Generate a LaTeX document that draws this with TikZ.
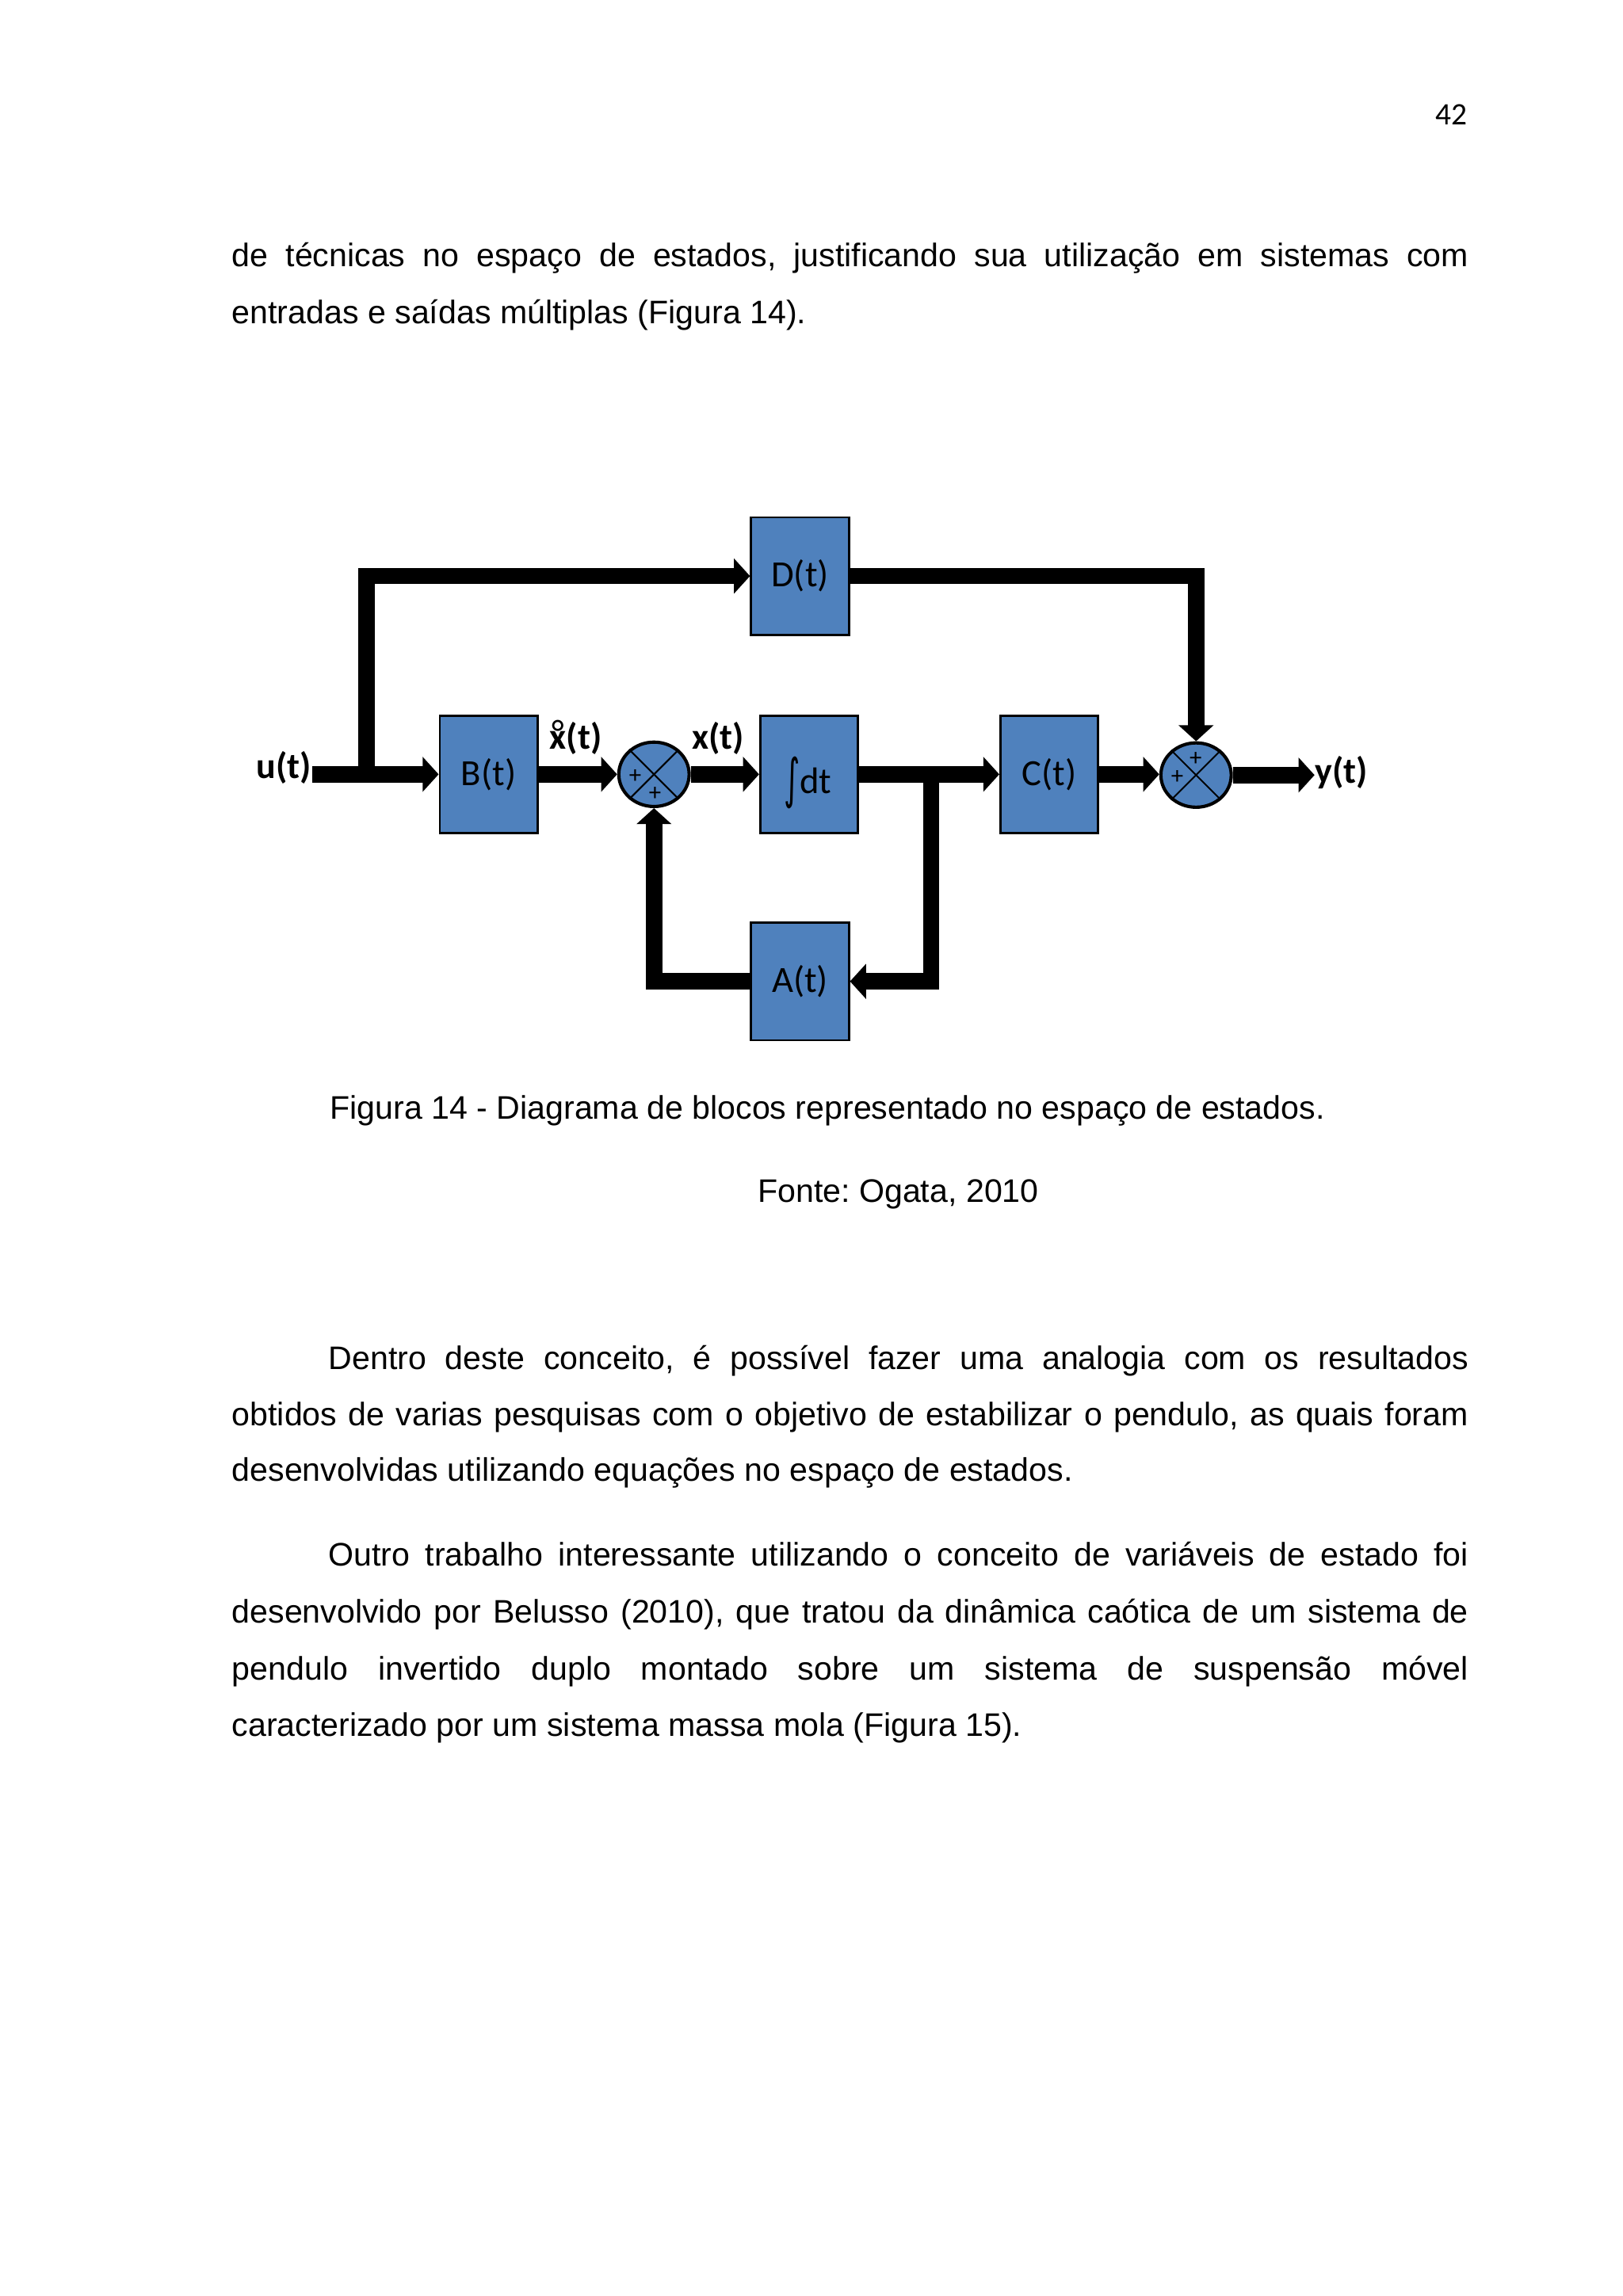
\documentclass[tikz,border=0pt]{standalone}
\usepackage{fontspec}
\setmainfont{Liberation Sans}
\newfontfamily\calibri{Carlito}
\newfontfamily\dejavu{DejaVu Sans}
\usetikzlibrary{arrows.meta,shapes.geometric}
\definecolor{blockblue}{HTML}{4F81BD}
\newcommand{\xringdot}{\ooalign{x\cr\hidewidth\raisebox{0.1em}{\mdseries °}\hidewidth\cr}}
\newcommand{\bigintsign}{\raisebox{-1.6pt}{\scalebox{0.95}[1.65]{\dejavu\fontsize{12}{12}\selectfont ∫}}}
\tikzset{
  blk/.style={draw=black, line width=0.8pt, fill=blockblue, minimum width=36pt, minimum height=43.3pt, inner sep=0pt, font=\calibri\fontsize{13.6}{13.6}\selectfont},
  sumnode/.style={ellipse, draw=black, line width=1.2pt, fill=blockblue, minimum width=25.9pt, minimum height=23.7pt, inner sep=0pt},
  sig/.style={line width=6pt, -{Triangle[length=5.9pt,width=12.6pt]}},
  crossline/.style={line width=0.6pt},
  lbl/.style={font=\calibri\bfseries\fontsize{13.4}{13.4}\selectfont, inner sep=0pt, anchor=base west},
  pls/.style={font=\calibri\fontsize{9}{9}\selectfont, inner sep=0pt},
  body/.style={font=\frenchspacing\fontsize{12}{14}\selectfont, inner sep=0pt, anchor=base west},
}
\begin{document}
\frenchspacing
\begin{tikzpicture}[x=0.018953cm, y=-0.018953cm]
\fill[white] (0,0) rectangle (1108,1568);
\useasboundingbox (0,0) rectangle (1108,1568);

% page number
\node[font=\calibri\fontsize{11.5}{11.5}\selectfont, inner sep=0pt, anchor=base east] (pg) at (1002,85.3) {42};

% paragraph 1
\node[body] (p1a) at (158,182.2) {\makebox[16cm][s]{de técnicas no espaço de estados, justificando sua utilização em sistemas com}};
\node[body] (p1b) at (158,221.0) {entradas e saídas múltiplas (Figura 14).};

% ---------- diagram ----------
\node[blk] (D) at (546.2,393.4) {D(t)};
\node[blk] (B) at (333.6,528.8) {B(t)};
\node[blk] (I) at (552.4,528.8) {};
\node[font=\calibri\fontsize{13.6}{13.6}\selectfont, inner sep=0pt, anchor=base] (Ilbl) at (551.5,541.6) {\bigintsign dt};
\node[blk] (C) at (716.4,528.8) {C(t)};
\node[blk] (A) at (546.2,670.2) {A(t)};
\node[sumnode] (s1) at (446.5,528.8) {};
\node[sumnode] (s2) at (816.6,529.3) {};
\draw[crossline] (s1.45) -- (s1.225);
\draw[crossline] (s1.135) -- (s1.315);
\draw[crossline] (s2.45) -- (s2.225);
\draw[crossline] (s2.135) -- (s2.315);
\node[pls] (s1p1) at (433.7,530.4) {+};
\node[pls] (s1p2) at (447.2,542.3) {+};
\node[pls] (s2p1) at (816.4,518.1) {+};
\node[pls] (s2p2) at (803.8,530.6) {+};

\node[lbl, anchor=base east] (u) at (213,531.5) {u(t)};
\node[lbl] (xd) at (375,511.3) {\xringdot(t)};
\node[lbl] (xx) at (472,511.3) {x(t)};
\node[lbl] (y) at (897.5,534.8) {y(t)};

\coordinate (j1) at (250.3,528.8);
\coordinate (j2) at (635.8,528.8);

\draw[sig] (u.east |- B.west) -- (B.west);
\draw[sig] (j1) |- (D.west);
\draw[sig] (B.east) -- (s1.west);
\draw[sig] (s1.east) -- (I.west);
\draw[sig] (I.east) -- (C.west);
\draw[sig] (C.east) -- (s2.west |- C.east);
\draw[sig] (s2.east) -- (y.west |- s2.east);
\draw[sig] (D.east) -| (s2.north);
\draw[sig] (j2) |- (A.east);
\draw[sig] (A.west) -| (s1.south);

% captions
\node[body] (cap) at (225,764.2) {Figura 14 - Diagrama de blocos representado no espaço de estados.};
\node[body] (src) at (517,821) {Fonte: Ogata, 2010};

% paragraph 2
\node[body] (p2a) at (224,935.1) {\makebox[14.75cm][s]{Dentro deste conceito, é possível fazer uma analogia com os resultados}};
\node[body] (p2b) at (158,973.9) {\makebox[16cm][s]{obtidos de varias pesquisas com o objetivo de estabilizar o pendulo, as quais foram}};
\node[body] (p2c) at (158,1011.7) {desenvolvidas utilizando equações no espaço de estados.};

% paragraph 3
\node[body] (p3a) at (224,1069.5) {\makebox[14.75cm][s]{Outro trabalho interessante utilizando o conceito de variáveis de estado foi}};
\node[body] (p3b) at (158,1108.3) {\makebox[16cm][s]{desenvolvido por Belusso (2010), que tratou da dinâmica caótica de um sistema de}};
\node[body] (p3c) at (158,1147.1) {\makebox[16cm][s]{pendulo invertido duplo montado sobre um sistema de suspensão móvel}};
\node[body] (p3d) at (158,1185.9) {caracterizado por um sistema massa mola (Figura 15).};
\end{tikzpicture}
\end{document}
